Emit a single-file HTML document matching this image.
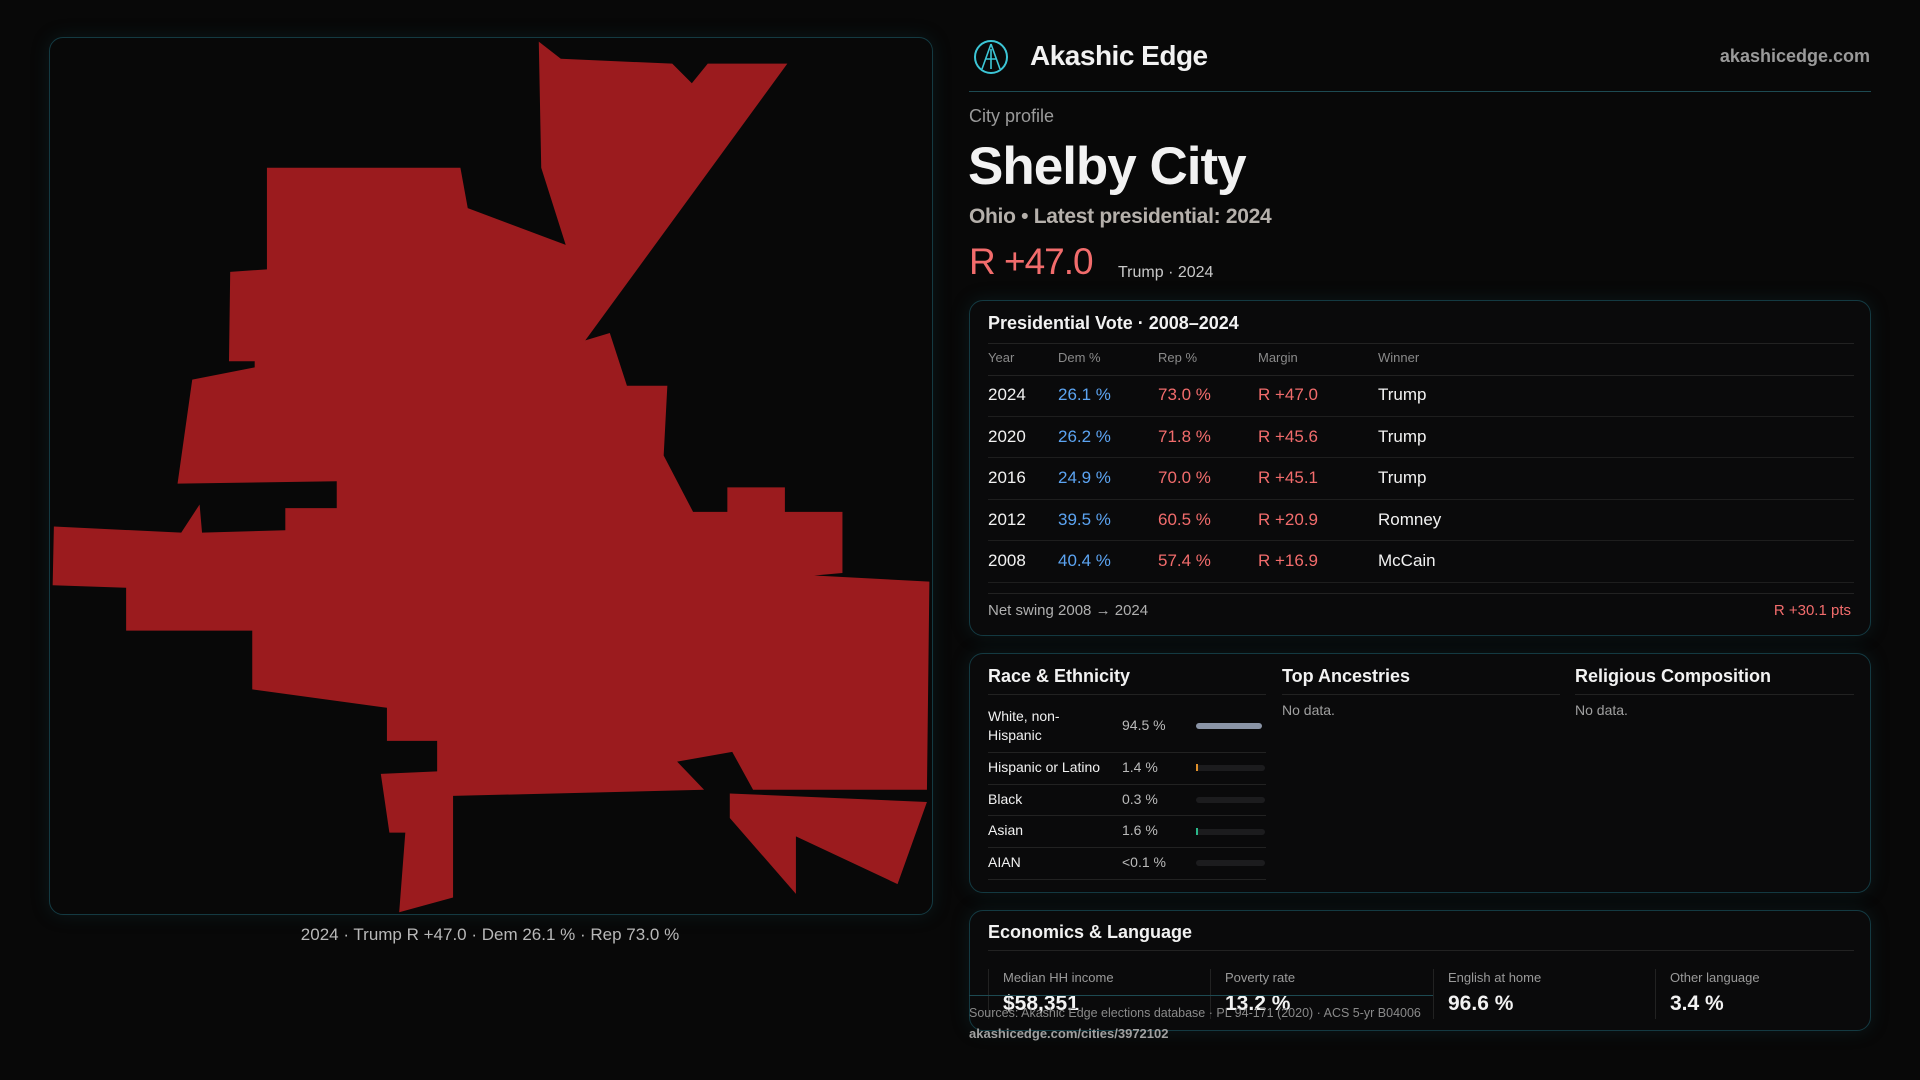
<!DOCTYPE html>
<html><head><meta charset="utf-8">
<style>
*{margin:0;padding:0;box-sizing:border-box}
body{width:1920px;height:1080px;background:#080808;font-family:"Liberation Sans",sans-serif;color:#f2f2f2;position:relative;overflow:hidden}
.a{position:absolute;white-space:nowrap}
.panel{position:absolute;border:1px solid #143a42;border-radius:14px;background:#0a0a0b;box-shadow:0 0 18px rgba(20,70,80,0.25)}
.rule{position:absolute;height:1px;background:#222}
.g{color:#a9a9a9}
.red{color:#f26c6c}
.blue{color:#5ca4f2}
.bar{position:absolute;height:6px;border-radius:3px;background:#1c1c1e}
</style></head><body>
<div class="panel" style="left:49px;top:37px;width:884px;height:878px;background:#080808"></div>
<svg class="a" style="left:0;top:0" width="1920" height="1080" viewBox="0 0 1568 882">
<polygon fill="#9b1b1e" points="440,34 458,48 549,52 565,68 578,52 643,52 478,278 498,272 512,315 545,315 542,372 566,418 594,418 594,398 641,398 641,418 688,418 688,468 665,470 759,475 757,645 615,645 598,614 553,622 575,645 370,650 370,733 326,745 331,680 318,680 311,632 357,630 357,605 316,605 316,578 206,563 206,515 103,515 103,480 43,478 44,430 148,435 163,412 165,435 233,433 233,415 275,415 275,393 145,395 157,310 208,300 208,295 187,295 188,222 218,220 218,137 376,137 382,170 462,200 442,137"/>
<polygon fill="#9b1b1e" points="596,648 757,655 733,722 650,683 650,730 596,668"/>
</svg>
<div class="a g" style="left:0;width:980px;text-align:center;top:925px;font-size:17px;color:#b8b8b8">2024 · Trump R +47.0 · Dem 26.1 % · Rep 73.0 %</div>

<svg class="a" style="left:973px;top:39px" width="36" height="36" viewBox="0 0 36 36"><circle cx="18" cy="18" r="16" fill="none" stroke="#3cc6d6" stroke-width="2"/><path d="M18 5 L9 30 M18 5 L27 30 M12 20 H24 M18 10 V30" stroke="#3cc6d6" stroke-width="1.6" fill="none"/></svg>
<div class="a" style="left:1030px;top:40px;font-size:28px;font-weight:bold;letter-spacing:-0.5px">Akashic Edge</div>
<div class="a g" style="right:50px;top:46px;font-size:18px;font-weight:bold;color:#9a9a9a">akashicedge.com</div>
<div class="a" style="left:969px;top:91px;width:902px;height:1px;background:#1d4a52"></div>
<div class="a g" style="left:969px;top:106px;font-size:18px;color:#9a9a9a">City profile</div>
<div class="a" style="left:968px;top:136px;font-size:53px;font-weight:bold;letter-spacing:-1px">Shelby City</div>
<div class="a" style="left:969px;top:205px;font-size:21px;color:#b5b0ab;font-weight:bold;letter-spacing:-0.3px">Ohio • Latest presidential: 2024</div>
<div class="a red" style="left:969px;top:241px;font-size:37px;letter-spacing:-1px">R +47.0</div>
<div class="a" style="left:1118px;top:264px;font-size:16px;color:#c8c8c8">Trump · 2024</div>

<div class="panel" style="left:969px;top:300px;width:902px;height:336px"></div>
<div class="a" style="left:988px;top:313px;font-size:18px;font-weight:bold">Presidential Vote · 2008–2024</div>
<div class="rule" style="left:988px;top:343px;width:866px"></div>
<div class="a g" style="left:988px;top:350px;font-size:13px;color:#8a8a8a">Year</div>
<div class="a g" style="left:1058px;top:350px;font-size:13px;color:#8a8a8a">Dem %</div>
<div class="a g" style="left:1158px;top:350px;font-size:13px;color:#8a8a8a">Rep %</div>
<div class="a g" style="left:1258px;top:350px;font-size:13px;color:#8a8a8a">Margin</div>
<div class="a g" style="left:1378px;top:350px;font-size:13px;color:#8a8a8a">Winner</div>
<div class="rule" style="left:988px;top:375px;width:866px"></div>
<div style="position:absolute;left:988px;top:375px;width:866px;font-size:17px">
<div style="position:relative;height:41.6px;border-bottom:1px solid #1e1e1e"><span class="a" style="left:0;top:10px">2024</span><span class="a blue" style="left:70px;top:10px">26.1 %</span><span class="a red" style="left:170px;top:10px">73.0 %</span><span class="a red" style="left:270px;top:10px">R +47.0</span><span class="a" style="left:390px;top:10px">Trump</span></div>
<div style="position:relative;height:41.6px;border-bottom:1px solid #1e1e1e"><span class="a" style="left:0;top:10px">2020</span><span class="a blue" style="left:70px;top:10px">26.2 %</span><span class="a red" style="left:170px;top:10px">71.8 %</span><span class="a red" style="left:270px;top:10px">R +45.6</span><span class="a" style="left:390px;top:10px">Trump</span></div>
<div style="position:relative;height:41.6px;border-bottom:1px solid #1e1e1e"><span class="a" style="left:0;top:10px">2016</span><span class="a blue" style="left:70px;top:10px">24.9 %</span><span class="a red" style="left:170px;top:10px">70.0 %</span><span class="a red" style="left:270px;top:10px">R +45.1</span><span class="a" style="left:390px;top:10px">Trump</span></div>
<div style="position:relative;height:41.6px;border-bottom:1px solid #1e1e1e"><span class="a" style="left:0;top:10px">2012</span><span class="a blue" style="left:70px;top:10px">39.5 %</span><span class="a red" style="left:170px;top:10px">60.5 %</span><span class="a red" style="left:270px;top:10px">R +20.9</span><span class="a" style="left:390px;top:10px">Romney</span></div>
<div style="position:relative;height:41.6px;border-bottom:1px solid #1e1e1e"><span class="a" style="left:0;top:10px">2008</span><span class="a blue" style="left:70px;top:10px">40.4 %</span><span class="a red" style="left:170px;top:10px">57.4 %</span><span class="a red" style="left:270px;top:10px">R +16.9</span><span class="a" style="left:390px;top:10px">McCain</span></div>
</div>
<div class="rule" style="left:988px;top:593px;width:866px"></div>
<div class="a" style="left:988px;top:602px;font-size:15px;color:#b0b0b0">Net swing 2008 → 2024</div>
<div class="a red" style="right:69px;top:602px;font-size:15px">R +30.1 pts</div>

<div class="panel" style="left:969px;top:653px;width:902px;height:240px"></div>
<div class="a" style="left:988px;top:666px;font-size:18px;font-weight:bold">Race &amp; Ethnicity</div>
<div class="a" style="left:1282px;top:666px;font-size:18px;font-weight:bold">Top Ancestries</div>
<div class="a" style="left:1575px;top:666px;font-size:18px;font-weight:bold">Religious Composition</div>
<div class="rule" style="left:988px;top:694px;width:278px"></div>
<div class="rule" style="left:1282px;top:694px;width:278px"></div>
<div class="rule" style="left:1575px;top:694px;width:279px"></div>
<div class="a" style="left:1282px;top:702px;font-size:14px;color:#a0a0a0">No data.</div>
<div class="a" style="left:1575px;top:702px;font-size:14px;color:#a0a0a0">No data.</div>
<div class="a" style="left:988px;top:707px;font-size:14px;line-height:19px;white-space:normal;width:110px">White, non-<br>Hispanic</div>
<div class="a" style="left:1122px;top:717px;font-size:14px;color:#bbb">94.5 %</div>
<div class="bar" style="left:1196px;top:723px;width:66px;background:#8a94a6"></div>
<div class="rule" style="left:988px;top:752px;width:278px"></div>
<div class="a" style="left:988px;top:759px;font-size:14px">Hispanic or Latino</div>
<div class="a" style="left:1122px;top:759px;font-size:14px;color:#bbb">1.4 %</div>
<div class="bar" style="left:1196px;top:765px;width:69px"></div><div class="a" style="left:1196px;top:764px;width:2px;height:7px;background:#e0902a"></div>
<div class="rule" style="left:988px;top:784px;width:278px"></div>
<div class="a" style="left:988px;top:791px;font-size:14px">Black</div>
<div class="a" style="left:1122px;top:791px;font-size:14px;color:#bbb">0.3 %</div>
<div class="bar" style="left:1196px;top:797px;width:69px"></div>
<div class="rule" style="left:988px;top:815px;width:278px"></div>
<div class="a" style="left:988px;top:822px;font-size:14px">Asian</div>
<div class="a" style="left:1122px;top:822px;font-size:14px;color:#bbb">1.6 %</div>
<div class="bar" style="left:1196px;top:829px;width:69px"></div><div class="a" style="left:1196px;top:828px;width:2px;height:7px;background:#2ab88a"></div>
<div class="rule" style="left:988px;top:847px;width:278px"></div>
<div class="a" style="left:988px;top:854px;font-size:14px">AIAN</div>
<div class="a" style="left:1122px;top:854px;font-size:14px;color:#bbb">&lt;0.1 %</div>
<div class="bar" style="left:1196px;top:860px;width:69px"></div>
<div class="rule" style="left:988px;top:879px;width:278px"></div>

<div class="panel" style="left:969px;top:910px;width:902px;height:121px"></div>
<div class="a" style="left:988px;top:922px;font-size:18px;font-weight:bold">Economics &amp; Language</div>
<div class="rule" style="left:988px;top:950px;width:866px"></div>
<div class="a" style="left:988px;top:969px;width:1px;height:50px;background:#222"></div>
<div class="a" style="left:1210px;top:969px;width:1px;height:50px;background:#222"></div>
<div class="a" style="left:1433px;top:969px;width:1px;height:50px;background:#222"></div>
<div class="a" style="left:1655px;top:969px;width:1px;height:50px;background:#222"></div>
<div class="a" style="left:1003px;top:970px;font-size:13px;color:#9a9a9a">Median HH income</div>
<div class="a" style="left:1225px;top:970px;font-size:13px;color:#9a9a9a">Poverty rate</div>
<div class="a" style="left:1448px;top:970px;font-size:13px;color:#9a9a9a">English at home</div>
<div class="a" style="left:1670px;top:970px;font-size:13px;color:#9a9a9a">Other language</div>
<div class="a" style="left:1003px;top:992px;font-size:21px;font-weight:bold">$58,351</div>
<div class="a" style="left:1225px;top:992px;font-size:21px;font-weight:bold">13.2 %</div>
<div class="a" style="left:1448px;top:992px;font-size:21px;font-weight:bold">96.6 %</div>
<div class="a" style="left:1670px;top:992px;font-size:21px;font-weight:bold">3.4 %</div>
<div class="a" style="left:969px;top:995px;width:464px;height:1px;background:#1d4a52"></div>
<div class="a" style="left:969px;top:1006px;font-size:12.5px;color:#8a8a8a">Sources: Akashic Edge elections database · PL 94-171 (2020) · ACS 5-yr B04006</div>
<div class="a" style="left:969px;top:1026px;font-size:13px;color:#a0a0a0;font-weight:bold">akashicedge.com/cities/3972102</div>
</body></html>
